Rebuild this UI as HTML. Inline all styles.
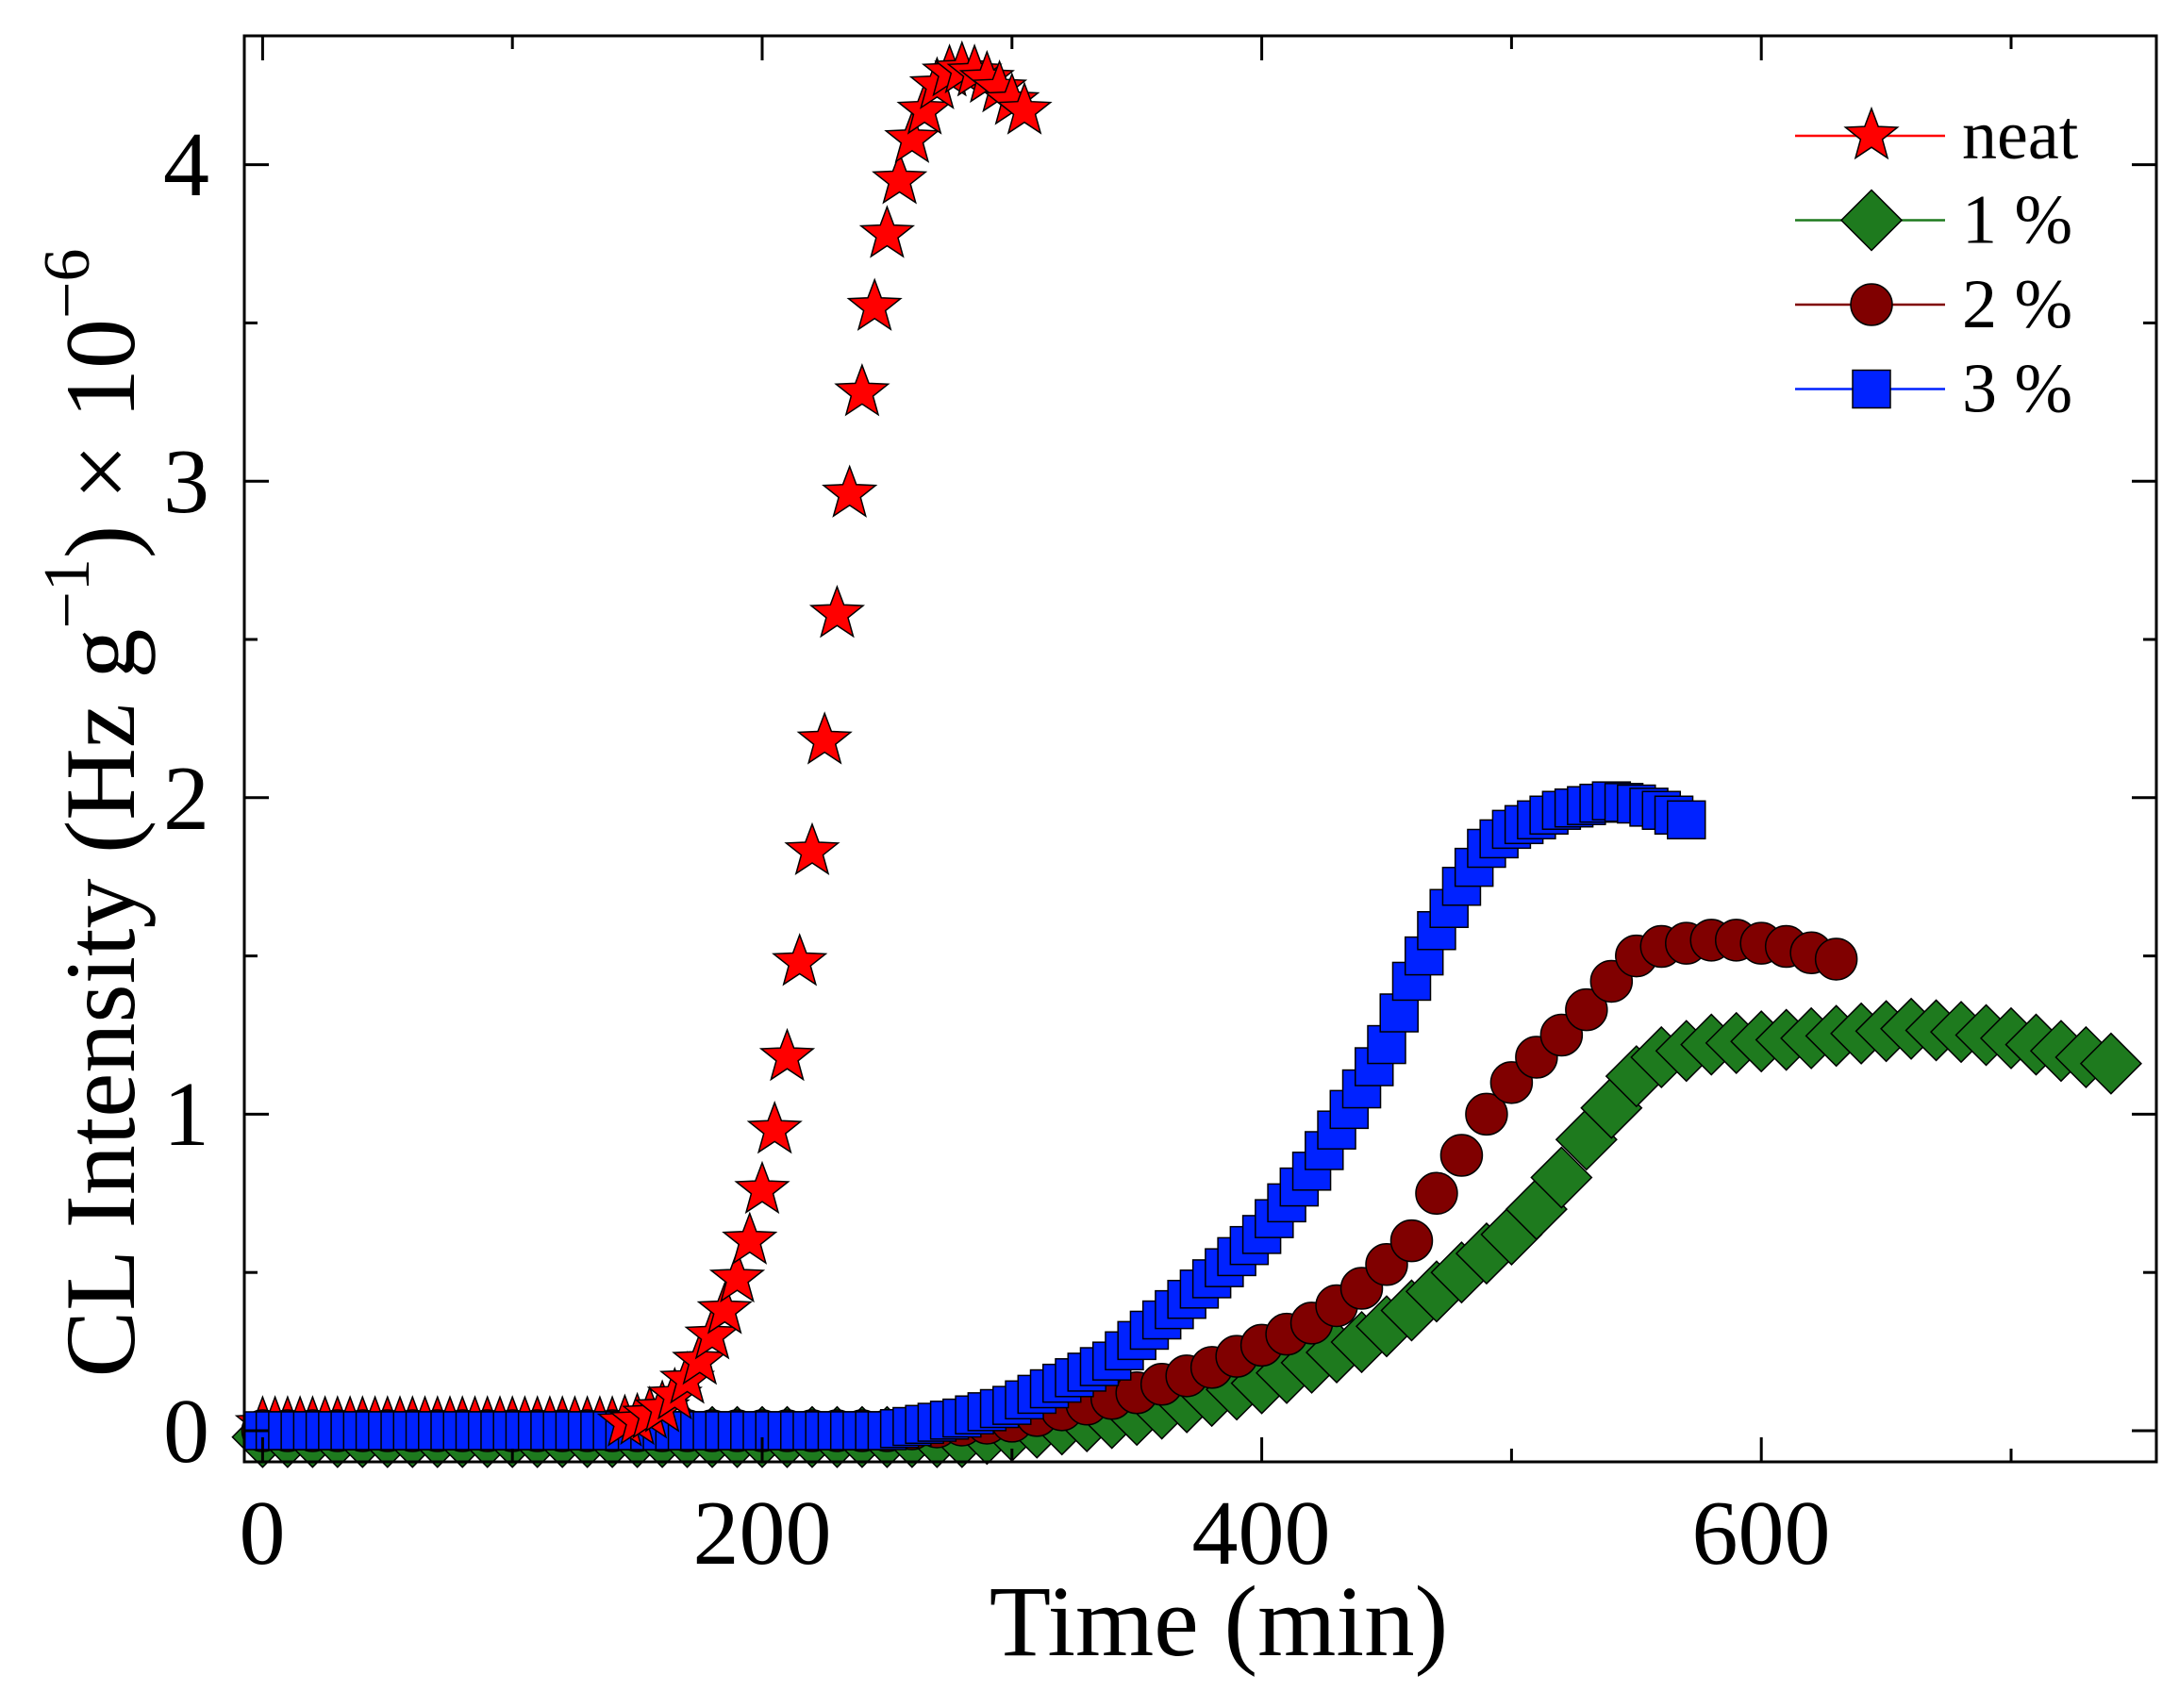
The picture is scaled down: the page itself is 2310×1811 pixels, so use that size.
<!DOCTYPE html>
<html><head><meta charset="utf-8"><style>
html,body{margin:0;padding:0;background:#fff;}
svg{display:block;}
text{font-family:"Liberation Serif",serif;fill:#000;}
</style></head><body>
<svg id="s" width="2310" height="1811" viewBox="0 0 2310 1811" xmlns="http://www.w3.org/2000/svg">
<g id="data"></g>
<rect x="259" y="38" width="2027" height="1512" fill="none" stroke="#000" stroke-width="3"/>
<g id="ticks" stroke="#000" stroke-width="3"></g>
<g font-size="98" text-anchor="middle">
<text x="278" y="1658">0</text><text x="808" y="1658">200</text><text x="1337" y="1658">400</text><text x="1867" y="1658">600</text>
</g>
<g font-size="98" text-anchor="end">
<text x="222" y="1550">0</text><text x="222" y="1214">1</text><text x="222" y="879">2</text><text x="222" y="543">3</text><text x="222" y="207">4</text>
</g>
<text x="1292" y="1755" font-size="107" text-anchor="middle">Time (min)</text>
<text transform="translate(142,862) rotate(-90)" font-size="106" text-anchor="middle">CL Intensity (Hz g<tspan dy="-48" font-size="70">−1</tspan><tspan dy="48">) × 10</tspan><tspan dy="-48" font-size="70">−6</tspan></text>
<g id="legend" font-size="74"></g>
</svg>
<script>
var NS="http://www.w3.org/2000/svg";
function X(t){return 278.4+t*2.648;}
function Y(v){return 1517-v*335.6;}
function el(p,tag,a){var e=document.createElementNS(NS,tag);for(var k in a)e.setAttribute(k,a[k]);p.appendChild(e);return e;}
function interp(k,t){if(t<=k[0][0])return k[0][1];for(var i=1;i<k.length;i++){if(t<=k[i][0]){var a=k[i-1],b=k[i];return a[1]+(b[1]-a[1])*(t-a[0])/(b[0]-a[0]);}}return k[k.length-1][1];}
function star(g,x,y,r,fill){var p=[];for(var i=0;i<10;i++){var rr=i%2?r*0.42:r;var a=-Math.PI/2+i*Math.PI/5;p.push((x+rr*Math.cos(a)).toFixed(1)+","+(y+rr*Math.sin(a)).toFixed(1));}el(g,"polygon",{points:p.join(" "),fill:fill,stroke:"#000","stroke-width":1.5});}
function marker(g,type,x,y){
 if(type=="star")star(g,x,y,29,"#ff0000");
 else if(type=="dia")el(g,"polygon",{points:(x)+","+(y-32)+" "+(x+32)+","+y+" "+x+","+(y+32)+" "+(x-32)+","+y,fill:"#1e7a1e",stroke:"#000","stroke-width":1.5});
 else if(type=="circ")el(g,"circle",{cx:x,cy:y,r:22,fill:"#800000",stroke:"#000","stroke-width":1.5});
 else el(g,"rect",{x:x-20,y:y-20,width:40,height:40,fill:"#0022ff",stroke:"#000","stroke-width":1.5});
}
var D=document.getElementById("data");
var green=[[0,-0.02],[280,-0.02],[350,0.05],[400,0.15],[440,0.28],[460,0.38],[480,0.5],[500,0.62],[510,0.7],[520,0.8],[530,0.92],[540,1.02],[550,1.12],[560,1.18],[580,1.22],[620,1.24],[660,1.27],[680,1.26],[700,1.24],[720,1.2],[740,1.16]];
var brown=[[0,0],[250,0.0],[300,0.03],[350,0.12],[380,0.2],[400,0.27],[420,0.34],[440,0.45],[460,0.6],[470,0.75],[480,0.87],[490,1.0],[500,1.1],[510,1.18],[520,1.25],[530,1.33],[540,1.42],[550,1.5],[560,1.53],[580,1.55],[590,1.55],[600,1.54],[610,1.53],[620,1.51],[630,1.49]];
var blue=[[0,0],[250,0.0],[280,0.04],[300,0.08],[340,0.22],[380,0.48],[400,0.62],[420,0.82],[440,1.08],[450,1.22],[460,1.42],[470,1.58],[480,1.72],[490,1.84],[500,1.9],[520,1.96],[540,1.99],[550,1.98],[560,1.96],[570,1.93]];
var red=[[0,0.02],[140,0.02],[150,0.03],[160,0.07],[165,0.11],[170,0.16],[175,0.22],[180,0.3],[185,0.38],[190,0.48],[195,0.6],[200,0.76],[205,0.95],[210,1.18],[215,1.48],[220,1.83],[225,2.18],[230,2.58],[235,2.96],[240,3.28],[245,3.55],[250,3.78],[255,3.95],[260,4.08],[265,4.17],[270,4.25],[275,4.29],[280,4.3],[285,4.29],[290,4.27],[295,4.24],[300,4.2],[305,4.17]];
function series(k,start,end,step,type){for(var t=start;t<=end+0.01;t+=step)marker(D,type,X(t),Y(interp(k,t)));}
series(green,0,740,10,"dia");
series(red,0,140,5,"star");
series(brown,0,630,10,"circ");
series(blue,0,570,5,"sq");
series(red,145,305,5,"star");
var T=document.getElementById("ticks");
for(var t=0;t<=750;t+=100){var x=X(t),L=(t%200==0)?26:14;el(T,"line",{x1:x,y1:1550,x2:x,y2:1550-L});el(T,"line",{x1:x,y1:38,x2:x,y2:38+L});}
for(var v=0;v<=4.3;v+=0.5){var y=Y(v),L=(Math.abs(v-Math.round(v))<0.01)?26:14;el(T,"line",{x1:259,y1:y,x2:259+L,y2:y});el(T,"line",{x1:2286,y1:y,x2:2286-L,y2:y});}
var G=document.getElementById("legend");
var leg=[["star","#ff0000","neat"],["dia","#1e7a1e","1 %"],["circ","#800000","2 %"],["sq","#0022ff","3 %"]];
for(var i=0;i<4;i++){var y=144+i*89.5;el(G,"line",{x1:1903,y1:y,x2:2062,y2:y,stroke:leg[i][1],"stroke-width":2.5});marker(G,leg[i][0],1984,y);var tx=el(G,"text",{x:2080,y:y+24});tx.textContent=leg[i][2];}
</script>
</body></html>
